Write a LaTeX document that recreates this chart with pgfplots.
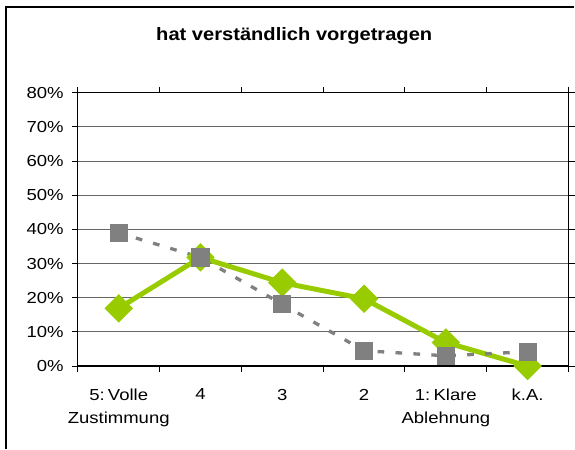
\documentclass[border=0pt]{standalone}
\usepackage{pgfplots}
\pgfplotsset{compat=1.18}
\usepackage{fontspec}
\setmainfont{Liberation Sans}[FakeStretch=1.16]
\newfontfamily\titlefont{Liberation Sans}[FakeStretch=1.12]
\definecolor{lgreen}{HTML}{99CC00}
\definecolor{sgray}{HTML}{808080}
\begin{document}
\fontsize{12}{17.5}\selectfont
\begin{tikzpicture}[x=0.75pt,y=0.75pt]
\path (0,0) rectangle (575,450);
\draw[black, line width=1pt] (6,0) -- (6,443) -- (575,443);
\node[anchor=base, font=\titlefont\bfseries\fontsize{13.5}{16}\selectfont] at (295,409.3) {hat verständlich vorgetragen};
\begin{axis}[
  at={(58.5pt,62.25pt)}, anchor=south west,
  scale only axis, width=369pt, height=205.5pt,
  xmin=-0.5, xmax=5.5, ymin=0, ymax=80,
  xtick={-0.5,0.5,1.5,2.5,3.5,4.5,5.5},
  xticklabels={},
  extra x ticks={0,1,2,3,4,5},
  extra x tick labels={{5:\hspace{0.2em}Volle\\Zustimmung},4,3,2,{1:\hspace{0.2em}Klare\\Ablehnung},k.A.},
  extra x tick style={major tick length=0pt, tick style={draw=none},
    xticklabel style={align=center, font=\fontsize{12}{17.5}\selectfont, yshift=-13pt}},
  yticklabel style={xshift=-2pt},
  ytick={0,10,...,80},
  yticklabel={\pgfmathprintnumber{\tick}\%},
  /pgf/number format/assume math mode=true,
  tick align=outside,
  major tick length=4.5pt,
  tick style={black, line width=0.75pt},
  ymajorgrids, grid style={black!60, line width=0.75pt},
  axis line style={black, line width=0.9pt},
  clip=false,
]
\addplot[lgreen, line width=3.75pt, mark=square*, mark size=5.7pt, mark options={rotate=45, solid, fill=lgreen, draw=none}]
  coordinates {(0,16.9) (1,31.8) (2,24.4) (3,19.7) (4,6.9) (5,0)};
\addplot[sgray, line width=2.5pt, dash pattern=on 5pt off 8.5pt, mark=square*, mark size=5.6pt, mark options={solid, fill=sgray, draw=none}]
  coordinates {(0,39.0) (1,31.8) (2,18.1) (3,4.5) (4,3.0) (5,4.2)};
\end{axis}
\end{tikzpicture}
\end{document}
